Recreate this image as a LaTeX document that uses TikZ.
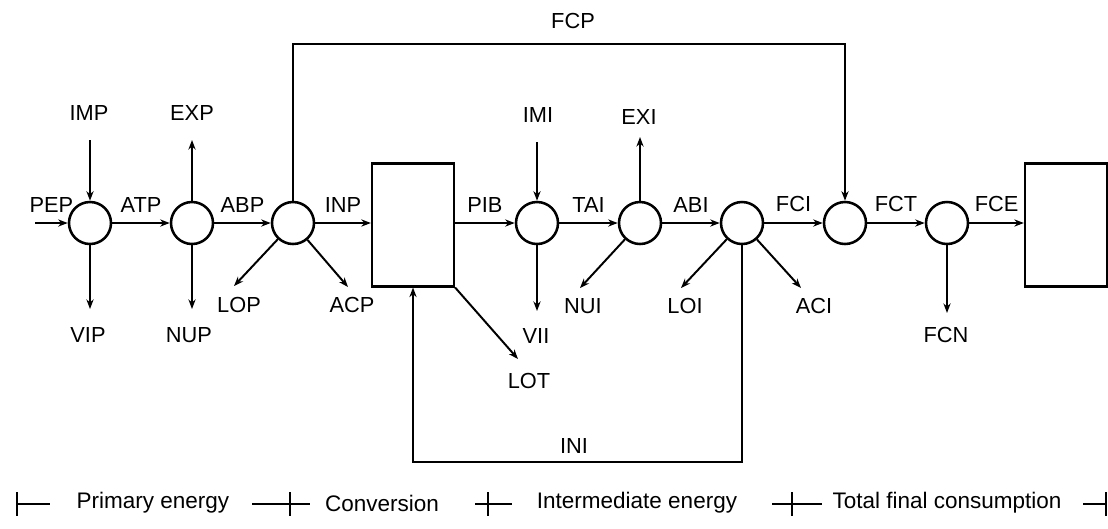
\documentclass[tikz,border=0pt]{standalone}
\usepackage{fontspec}
\setmainfont{Liberation Sans}
\usetikzlibrary{arrows.meta}
\tikzset{
  junc/.style={draw, circle, line width=1.8pt, minimum size=1.05cm, inner sep=0pt},
  sector/.style={draw, line width=1.6pt, minimum width=2.05cm, minimum height=3.07cm, inner sep=0pt},
  lbl/.style={font=\fontsize{15.5}{17}\selectfont, inner sep=1pt},
  key/.style={font=\fontsize{16}{18}\selectfont, inner sep=1pt},
  flow/.style={-{Stealth[length=2.4mm, width=1.8mm]}, line width=1.4pt},
  rule/.style={line width=1.4pt},
}
\begin{document}
\begin{tikzpicture}[x=0.025cm, y=-0.025cm]
  \useasboundingbox (0,0) rectangle (1108,528);
  % primary energy
  \node[junc] (prod) at (90,223) {};
  \node[junc] (trade) at (192,223) {};
  \node[junc] (prim) at (293,223) {};
  % conversion
  \node[sector] (conv) at (413,225) {};
  % intermediate energy
  \node[junc] (imid) at (537,223) {};
  \node[junc] (itrade) at (640,223) {};
  \node[junc] (inter) at (742,223) {};
  % final consumption
  \node[junc] (tfin) at (845,223) {};
  \node[junc] (fin) at (947,223) {};
  \node[sector] (use) at (1066,225) {};

  % free ends
  \coordinate (pepIn) at (35,223);
  \coordinate (impIn) at (90,140);
  \coordinate (expOut) at (192,140);
  \coordinate (vipOut) at (90,309);
  \coordinate (nupOut) at (192,309);
  \coordinate (lopOut) at (234,286);
  \coordinate (acpOut) at (348,287);
  \coordinate (lotOut) at (518,359);
  \coordinate (imiIn) at (537,142);
  \coordinate (exiOut) at (640,137);
  \coordinate (viiOut) at (537,311);
  \coordinate (nuiOut) at (580,288);
  \coordinate (loiOut) at (681,288);
  \coordinate (aciOut) at (801,288);
  \coordinate (fcnOut) at (947,313);
  \coordinate (fcpTop) at (570,44);
  \coordinate (iniBot) at (577,462);

  % main chain
  \draw[flow] (pepIn) -- (prod) node[midway, lbl, above=6pt] {PEP};
  \draw[flow] (prod) -- (trade) node[midway, lbl, above=6pt] {ATP};
  \draw[flow] (trade) -- (prim) node[midway, lbl, above=6pt] {ABP};
  \draw[flow] (prim) -- (prim -| conv.west) node[midway, lbl, above=6pt] {INP};
  \draw[flow] (conv.east |- imid) -- (imid) node[midway, lbl, above=6pt] {PIB};
  \draw[flow] (imid) -- (itrade) node[midway, lbl, above=6pt] {TAI};
  \draw[flow] (itrade) -- (inter) node[midway, lbl, above=6pt] {ABI};
  \draw[flow] (inter) -- (tfin) node[midway, lbl, above=6pt] {FCI};
  \draw[flow] (tfin) -- (fin) node[midway, lbl, above=6pt] {FCT};
  \draw[flow] (fin) -- (fin -| use.west) node[midway, lbl, above=6pt] {FCE};

  % side flows
  \draw[flow] (impIn) -- (prod);
  \draw[flow] (trade) -- (expOut);
  \draw[flow] (prod) -- (vipOut);
  \draw[flow] (trade) -- (nupOut);
  \draw[flow] (prim) -- (lopOut);
  \draw[flow] (prim) -- (acpOut);
  \draw[flow] (conv.south east) -- (lotOut);
  \draw[flow] (imiIn) -- (imid);
  \draw[flow] (itrade) -- (exiOut);
  \draw[flow] (imid) -- (viiOut);
  \draw[flow] (itrade) -- (nuiOut);
  \draw[flow] (inter) -- (loiOut);
  \draw[flow] (inter) -- (aciOut);
  \draw[flow] (fin) -- (fcnOut);

  % bypass and feedback
  \draw[flow] (prim.north) |- (fcpTop) -| (tfin.north);
  \draw[flow] (inter.south) |- (iniBot) -| (conv.south);

  \node[lbl] (imp) at (89,113) {IMP};
  \node[lbl] (exp) at (192,113) {EXP};
  \node[lbl] (vip) at (88,335) {VIP};
  \node[lbl] (nup) at (189,335) {NUP};
  \node[lbl] (lop) at (239,305) {LOP};
  \node[lbl] (acp) at (352,305) {ACP};
  \node[lbl] (lot) at (529,381) {LOT};
  \node[lbl] (imi) at (538,115) {IMI};
  \node[lbl] (exi) at (639,117) {EXI};
  \node[lbl] (vii) at (536,336) {VII};
  \node[lbl] (nui) at (583,306) {NUI};
  \node[lbl] (loi) at (685,306) {LOI};
  \node[lbl] (aci) at (814,306) {ACI};
  \node[lbl] (fcn) at (946,335) {FCN};
  \node[lbl] (fcp) at (573,21) {FCP};
  \node[lbl] (ini) at (574,446) {INI};

  % legend
  \node[key] (kprim) at (153,503) {Primary energy};
  \node[key] (kconv) at (382,503) {Conversion};
  \node[key] (kint) at (637,503) {Intermediate energy};
  \node[key] (kfin) at (947,503) {Total final consumption};
  \foreach \x in {17,290,488,792,1106}
    \draw[rule] (\x,492) -- (\x,516);
  \draw[rule] (17,504) -- (50,504);
  \draw[rule] (252,504) -- (310,504);
  \draw[rule] (475,504) -- (512,504);
  \draw[rule] (772,504) -- (822,504);
  \draw[rule] (1083,504) -- (1106,504);
\end{tikzpicture}
\end{document}
